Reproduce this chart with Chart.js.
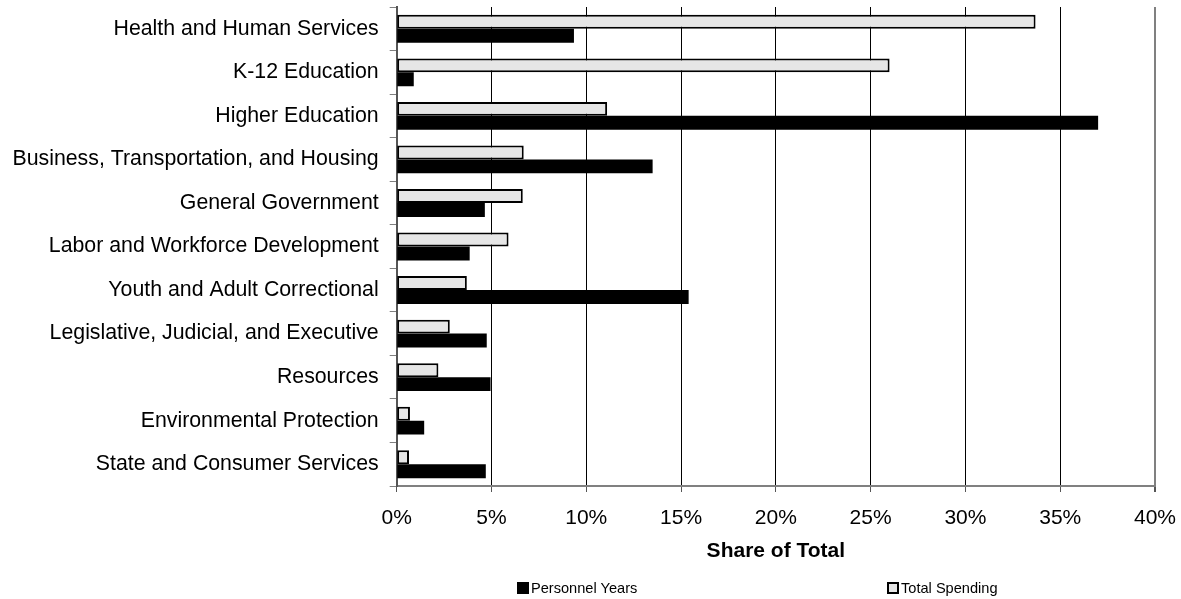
<!DOCTYPE html>
<html lang="en">
  <head>
    <meta charset="UTF-8" />
    <title>Share of Total</title>
    <style>
      * {
        margin: 0;
        padding: 0;
      }

      body {
        background: #fff;
        font-family: 'Liberation Sans', Arial, sans-serif;
      }

      .wrap {
        position: relative;
        width: 1181px;
        height: 599px;
      }

      .legend {
        position: absolute;
        top: 580px;
        left: 0;
        width: 1181px;
        height: 18px;
        font-size: 14.6px;
        color: #000;
      }

      .legend span {
        position: absolute;
        top: 0;
        line-height: 17px;
        white-space: nowrap;
      }

      .legend i {
        display: inline-block;
        box-sizing: border-box;
        width: 12px;
        height: 12px;
        margin-right: 2px;
        vertical-align: -1px;
      }
    </style>
  </head>
  <body>
    <div class="wrap">
      <canvas id="myChart"></canvas>
      <div class="legend" id="legend"></div>
    </div>

    <script src="https://cdn.jsdelivr.net/npm/chart.js@4/dist/chart.umd.min.js"></script>
    <script>
      const categories = [
        'Health and Human Services',
        'K-12 Education',
        'Higher Education',
        'Business, Transportation, and Housing',
        'General Government',
        'Labor and Workforce Development',
        'Youth and Adult Correctional',
        'Legislative, Judicial, and Executive',
        'Resources',
        'Environmental Protection',
        'State and Consumer Services'
      ]

      // percent of total
      const totalSpending = [33.7, 26.0, 11.1, 6.7, 6.65, 5.9, 3.7, 2.8, 2.2, 0.7, 0.65]
      const personnelYears = [9.35, 0.9, 37.0, 13.5, 4.65, 3.85, 15.4, 4.75, 4.95, 1.45, 4.7]

      const xTicks = [0, 5, 10, 15, 20, 25, 30, 35, 40]

      const font = "'Liberation Sans', Arial, sans-serif"
      const ctx = document.getElementById('myChart')

      const data = {
        labels: categories,
        datasets: [
          {
            label: 'Total Spending',
            data: totalSpending,
            backgroundColor: '#e6e6e6',
            borderColor: '#000',
            borderWidth: 2,
            borderSkipped: false
          },
          {
            label: 'Personnel Years',
            data: personnelYears,
            backgroundColor: '#000',
            borderColor: '#000',
            borderWidth: 0
          }
        ]
      }

      const options = {
        indexAxis: 'y',
        responsive: true,
        maintainAspectRatio: false,
        animation: false,
        datasets: {
          bar: {
            categoryPercentage: 0.64,
            barPercentage: 1
          }
        },
        layout: {
          padding: { left: 1.5, top: 7, right: 26, bottom: 33.6 }
        },
        plugins: {
          legend: { display: false },
          tooltip: { enabled: false }
        },
        scales: {
          x: {
            min: xTicks[0],
            max: xTicks[xTicks.length - 1],
            afterBuildTicks: (axis) => {
              axis.ticks = xTicks.map((v) => ({ value: v }))
            },
            // keep the plot edges where the source has them
            afterFit: (axis) => {
              axis.paddingLeft = 0
              axis.paddingRight = 0
            },
            grid: {
              color: (c) => (c.index === xTicks.length - 1 ? '#808080' : '#000'),
              lineWidth: (c) => (c.index === xTicks.length - 1 ? 2 : 1),
              tickColor: '#555',
              tickLength: 6
            },
            border: { color: '#808080', width: 2 },
            ticks: {
              color: '#000',
              padding: 14,
              maxRotation: 0,
              font: { family: font, size: 21 },
              callback: (v) => v + '%'
            },
            title: {
              display: true,
              text: 'Share of Total',
              color: '#000',
              padding: { top: -7, bottom: 2 },
              font: { family: font, size: 21, weight: 'bold' }
            }
          },
          y: {
            afterFit: (axis) => {
              axis.paddingTop = 0
              axis.paddingBottom = 0
            },
            grid: {
              offset: true,
              drawOnChartArea: false,
              color: '#808080',
              tickLength: 7
            },
            border: { color: '#555', width: 2 },
            ticks: {
              color: '#000',
              padding: 11,
              font: { family: font, size: 21.3 }
            }
          }
        }
      }

      const chart = new Chart(ctx, { type: 'bar', data, options })

      // Legend sits below the axis title, items spread apart as in the source
      const legendPos = { 'Personnel Years': 517, 'Total Spending': 887 }
      const legend = document.getElementById('legend')
      chart.data.datasets
        .slice()
        .reverse()
        .forEach((ds) => {
          const item = document.createElement('span')
          item.style.left = legendPos[ds.label] + 'px'
          const box = document.createElement('i')
          box.style.background = ds.backgroundColor
          box.style.border = ds.borderWidth ? '2px solid #000' : 'none'
          item.appendChild(box)
          item.appendChild(document.createTextNode(ds.label))
          legend.appendChild(item)
        })
    </script>
  </body>
</html>
